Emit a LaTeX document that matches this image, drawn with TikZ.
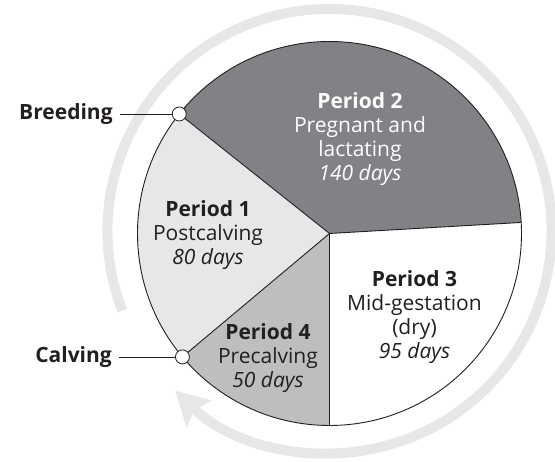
\documentclass[tikz,border=0pt]{standalone}
\usepackage{fontspec}
\setmainfont{Open Sans}
\usetikzlibrary{arrows.meta,positioning}

\definecolor{claro}{HTML}{E6E7E8}
\definecolor{oscuro}{HTML}{808285}
\definecolor{medio}{HTML}{BCBEC0}
\definecolor{tinta}{HTML}{231F20}

\begin{document}
\begin{tikzpicture}[x=1pt,y=1pt,
    texto/.style={align=center,text=tinta,font=\fontsize{21}{24}\selectfont},
    etiqueta/.style={text=tinta,inner sep=0pt,inner xsep=7pt,font=\fontsize{21}{24}\selectfont\bfseries},
    punto/.style={circle,draw=tinta,fill=white,line width=0.8pt,minimum size=14pt,inner sep=0pt}]
    \useasboundingbox (0,0) rectangle (555,462);

    % Flecha
    \draw[claro,line width=10pt,-{Stealth[length=33pt,width=36pt,inset=6pt]}]
        (329.5,231) ++(201:222) arc[start angle=201,end angle=-134,radius=222];

    % Sectores
    \coordinate (c) at (329.5,228.5);
    \fill[white] (c) -- ++(-90:192) arc[start angle=-90,end angle=3.3,radius=192] -- cycle;
    \fill[oscuro] (c) -- ++(3.3:192) arc[start angle=3.3,end angle=141.5,radius=192] -- cycle;
    \fill[claro] (c) -- ++(141.5:192) arc[start angle=141.5,end angle=220,radius=192] -- cycle;
    \fill[medio] (c) -- ++(220:192) arc[start angle=220,end angle=270,radius=192] -- cycle;
    \draw[tinta,line width=0.9pt] (c) circle[radius=192];
    \foreach \a in {-90,3.3,141.5,220}
        \draw[tinta,line width=0.9pt] (c) -- ++(\a:192);

    % Textos
    \node[texto,text=white] (p2) at (360,323) {\textbf{Period 2}\\Pregnant and\\lactating\\\textit{140 days}};
    \node[texto] (p1) at (208,227) {\textbf{Period 1}\\Postcalving\\\textit{80 days}};
    \node[texto] (p3) at (414.5,145) {\textbf{Period 3}\\Mid-gestation\\(dry)\\\textit{95 days}};
    \node[texto] (p4) at (268,104) {\textbf{Period 4}\\Precalving\\\textit{50 days}};

    % Puntos
    \path (c) ++(141.5:192) node[punto] (bdot) {};
    \path (c) ++(220:192) node[punto] (cdot) {};
    \node[etiqueta,left=52pt of bdot] (breed) {Breeding};
    \node[etiqueta,left=56pt of cdot] (calv) {Calving};
    \draw[tinta,line width=0.8pt] (breed) -- (bdot);
    \draw[tinta,line width=0.8pt] (calv) -- (cdot);
\end{tikzpicture}
\end{document}
